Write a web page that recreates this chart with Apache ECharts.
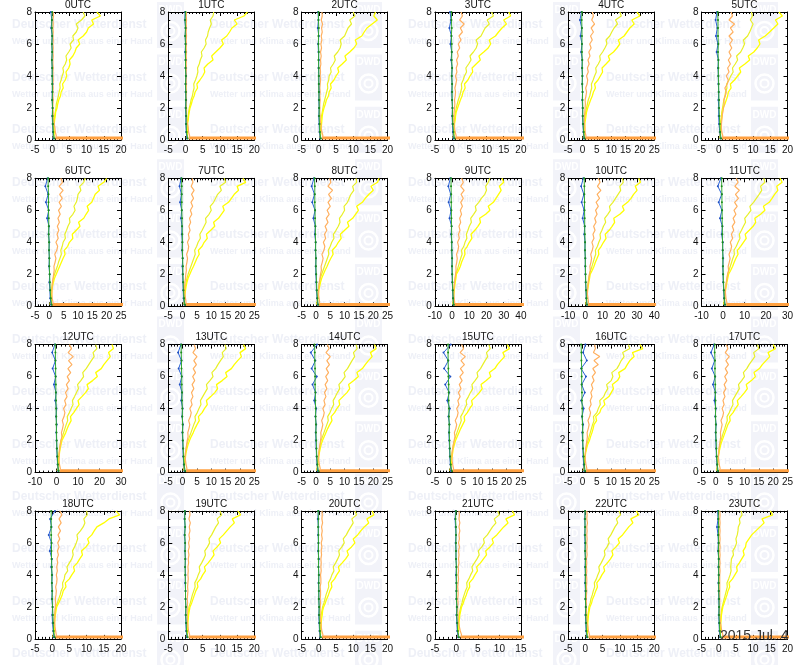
<!DOCTYPE html>
<html><head><meta charset="utf-8">
<script src="https://cdn.jsdelivr.net/npm/echarts@6/dist/echarts.min.js"></script>
<style>html,body{margin:0;padding:0;background:#fff}#c{width:800px;height:665px}</style>
</head><body><div id="c"></div><script>
const utcLabels = ['0UTC','1UTC','2UTC','3UTC','4UTC','5UTC','6UTC','7UTC','8UTC','9UTC','10UTC','11UTC','12UTC','13UTC','14UTC','15UTC','16UTC','17UTC','18UTC','19UTC','20UTC','21UTC','22UTC','23UTC'];
const xMin = [-5,-5,-5,-5,-5,-5, -5,-5,-5,-10,-10,-10, -10,-5,-5,-5,-5,-5, -5,-5,-5,-5,-5,-5];
const xMax = [20,20,20,20,25,20, 25,25,25,40,40,30, 30,25,25,25,25,25, 20,20,20,15,20,20];
const xStep = [5,5,5,5,5,5, 5,5,5,10,10,10, 10,5,5,5,5,5, 5,5,5,5,5,5];
const yMin = 0, yMax = 8, yStep = 2;
const dateLabel = '2015 Jul. 4';

// heights (km) for the fine profiles
const heights = [0.1,0.25,0.5,0.75,1,1.25,1.5,1.75,2,2.25,2.5,2.75,3,3.25,3.5,3.75,4,4.25,4.5,4.75,5,5.25,5.5,5.75,6,6.25,6.5,6.75,7,7.25,7.5,7.75,8];
// heights (km) for the coarse profiles
const heightsCoarse = [0.1,0.5,1,1.5,2,2.5,3,3.5,4,4.5,5,5.5,6,6.5,7,7.5,8];
const surfaceLevel = 0.12;

const yellowOuter = [
[0.3,0.5,0.6,0.5,0.6,0.7,0.9,1.0,1.4,1.6,1.9,2.4,2.6,3.2,3.0,3.8,4.2,4.0,4.8,5.2,5.0,6.0,6.6,7.0,8.0,7.5,9.0,10.0,10.5,12.0,11.5,14.0,13.0],
[0.3,0.5,0.6,0.7,0.6,0.8,0.9,1.1,1.3,1.7,2.0,2.5,2.8,3.5,3.3,4.2,5.0,5.6,5.4,6.5,8.0,7.6,8.8,10.0,11.0,10.5,12.0,12.8,13.5,15.0,14.2,17.0,18.0],
[0.3,0.5,0.6,0.7,0.8,0.9,1.0,1.2,1.5,1.9,2.2,2.8,3.0,3.6,3.4,4.4,5.0,5.8,5.5,6.8,8.0,7.6,9.0,10.2,11.0,10.6,12.5,13.2,14.0,15.5,17.0,16.0,16.5],
[0.3,0.5,0.6,0.7,0.7,0.9,1.0,1.2,1.6,2.0,2.4,2.9,3.2,3.8,3.6,4.6,5.2,6.0,5.8,7.0,8.2,7.8,9.2,10.5,11.2,10.8,12.6,13.5,14.5,15.8,15.0,17.0,16.5],
[0.3,0.5,0.7,0.8,0.8,1.0,1.2,1.4,1.8,2.3,2.8,3.4,3.8,4.5,4.2,5.4,6.2,7.0,6.8,8.2,9.5,9.0,10.8,12.0,13.0,12.5,14.5,15.5,16.5,18.0,17.2,20.0,19.0],
[0.3,0.5,0.6,0.7,0.7,0.8,1.0,1.1,1.3,1.8,2.2,2.6,2.8,3.6,3.4,4.6,5.5,6.4,6.0,7.6,9.0,8.6,10.2,11.2,12.0,11.6,13.5,14.8,16.0,17.2,16.5,18.5,17.5],
[0.3,0.5,0.7,0.8,0.9,1.1,1.4,1.8,2.4,3.0,3.6,4.2,4.8,5.5,5.2,6.4,7.0,8.2,8.0,9.4,10.7,10.2,12.0,12.8,13.7,13.2,14.8,15.4,16.0,17.5,17.0,19.0,20.0],
[0.3,0.5,0.7,0.8,1.0,1.2,1.5,1.9,2.5,3.1,3.8,4.4,5.0,5.8,5.5,6.8,7.5,8.6,8.3,9.8,11.2,10.8,12.5,13.5,14.5,14.0,16.0,17.0,18.0,19.5,19.0,22.0,21.0],
[0.3,0.5,0.7,0.9,1.0,1.3,1.6,2.0,2.6,3.2,3.9,4.5,5.2,6.0,5.7,7.0,7.8,8.8,8.5,10.0,11.5,11.0,12.8,13.8,14.8,14.2,16.2,17.2,18.5,20.0,19.2,21.5,22.0],
[0.4,0.6,0.8,1.0,1.2,1.5,1.8,2.2,2.5,3.8,4.8,5.5,6.5,7.5,7.2,8.8,10.0,11.5,11.0,13.2,15.0,16.5,16.0,19.5,22.0,21.0,24.0,25.5,27.0,28.5,27.5,30.0,29.0],
[0.4,0.6,0.8,1.1,1.3,1.6,2.0,2.4,2.8,4.0,5.0,5.8,6.8,7.8,7.5,9.2,10.5,12.0,11.5,13.8,15.5,17.0,16.5,20.0,22.5,21.5,24.5,26.5,28.0,30.0,29.0,32.0,31.0],
[0.4,0.6,0.8,1.0,1.2,1.5,1.8,2.2,2.6,3.6,4.5,5.2,6.0,7.0,6.7,8.2,9.5,10.8,10.3,12.2,14.0,15.2,14.8,17.5,19.5,18.8,21.5,22.8,24.0,25.5,25.0,27.5,26.5],
[0.4,0.6,0.8,1.0,1.2,1.4,1.7,2.1,2.5,3.4,4.3,5.0,5.8,6.8,6.5,8.0,9.2,10.5,10.0,11.8,13.5,14.8,14.2,16.8,19.0,18.2,20.8,22.0,23.5,25.0,24.2,26.5,25.8],
[0.3,0.5,0.7,0.9,1.0,1.2,1.5,1.9,2.4,3.0,3.7,4.3,5.0,5.8,5.5,6.8,7.6,8.6,8.3,9.8,11.2,12.2,11.8,13.8,15.5,15.0,17.0,18.0,19.2,20.5,20.0,22.0,21.2],
[0.3,0.5,0.7,0.8,1.0,1.2,1.5,1.8,2.3,2.9,3.5,4.1,4.8,5.6,5.3,6.5,7.3,8.3,8.0,9.4,10.8,11.8,11.4,13.2,14.8,14.3,16.2,17.2,18.3,19.6,19.0,21.0,20.4],
[0.3,0.5,0.7,0.8,1.0,1.2,1.4,1.8,2.2,2.8,3.4,4.0,4.7,5.4,5.2,6.3,7.1,8.1,7.8,9.2,10.5,11.5,11.1,12.9,14.5,14.0,15.9,16.8,18.0,19.3,18.7,21.0,20.2],
[0.3,0.5,0.6,0.8,0.9,1.1,1.4,1.8,2.4,2.8,3.3,3.7,4.0,4.9,4.6,6.0,6.5,7.8,7.4,9.2,10.0,10.8,10.4,12.2,13.0,12.6,14.8,15.6,16.5,18.0,17.4,21.0,20.0],
[0.3,0.5,0.6,0.8,0.9,1.1,1.4,1.7,2.2,2.7,3.2,3.7,4.2,5.0,4.8,6.0,6.8,7.8,7.5,8.8,10.0,11.0,10.6,12.4,13.8,13.3,15.2,16.2,17.5,18.8,18.2,20.8,20.0],
[0.3,0.5,0.6,0.7,0.7,0.8,0.9,1.1,1.3,1.9,2.4,2.9,3.2,4.0,3.8,5.0,5.7,6.5,6.2,7.3,8.0,8.8,8.5,9.8,10.7,10.3,11.5,12.2,13.0,15.0,16.5,19.6,18.5],
[0.3,0.5,0.6,0.7,0.7,0.8,0.9,1.1,1.3,1.8,2.2,2.6,3.0,3.6,3.4,4.4,5.0,5.8,5.5,6.6,7.5,8.3,8.0,9.2,10.2,9.8,11.0,12.0,13.0,14.2,13.6,16.0,15.2],
[0.3,0.5,0.6,0.7,0.7,0.8,1.0,1.1,1.4,1.9,2.3,2.8,3.2,3.8,3.6,4.6,5.2,6.0,5.7,6.8,7.8,8.6,8.2,9.5,10.5,10.0,11.3,12.2,13.2,14.5,14.0,16.0,15.5],
[0.3,0.4,0.5,0.6,0.6,0.7,0.8,1.0,1.2,1.6,1.9,2.3,2.6,3.1,3.0,3.8,4.3,4.9,4.7,5.6,6.3,7.0,6.8,7.8,8.6,8.3,9.4,10.2,11.0,12.0,11.5,13.5,13.0],
[0.3,0.5,0.6,0.7,0.7,0.8,0.9,1.1,1.3,1.8,2.1,2.6,3.0,3.5,3.3,4.2,4.8,5.6,5.3,6.4,7.3,8.0,7.7,8.9,9.9,9.5,10.8,11.7,12.6,13.8,13.2,15.5,14.8],
[0.3,0.4,0.5,0.6,0.6,0.7,0.8,1.0,1.2,1.6,2.0,2.4,2.7,3.2,3.0,4.0,4.7,5.4,5.2,6.0,6.7,7.4,7.1,7.8,8.0,8.8,9.6,10.8,12.0,13.2,12.6,15.7,15.0]
];

const yellowInner = [
[0.2,0.3,0.4,0.4,0.5,0.6,0.7,0.9,1.1,1.2,1.5,1.8,2.0,2.3,2.2,2.6,2.9,3.3,3.1,3.8,4.2,4.0,4.8,5.5,5.2,6.2,6.0,7.0,7.5,7.0,8.5,9.5,9.0],
[0.2,0.3,0.4,0.5,0.5,0.6,0.8,0.9,1.1,1.4,1.6,2.0,2.2,2.5,2.4,2.9,3.3,3.6,3.5,4.0,4.3,4.8,4.6,5.4,6.0,5.8,6.4,6.6,7.0,7.5,7.2,8.0,8.2],
[0.2,0.3,0.4,0.5,0.5,0.6,0.8,1.0,1.2,1.4,1.7,2.0,2.3,2.6,2.5,2.9,3.0,3.6,3.4,4.2,4.8,4.5,5.5,6.2,6.5,6.2,7.5,8.0,8.5,9.5,9.0,10.5,10.0],
[0.2,0.3,0.4,0.5,0.5,0.7,0.8,1.0,1.2,1.5,1.8,2.2,2.5,2.8,2.7,3.2,3.6,4.2,4.0,4.8,5.5,5.2,6.2,7.0,7.4,7.0,8.4,9.0,9.6,10.8,10.2,12.0,11.5],
[0.2,0.3,0.4,0.5,0.6,0.7,0.9,1.1,1.4,1.7,2.0,2.5,2.8,3.2,3.1,3.7,4.2,4.8,4.6,5.5,6.2,6.0,7.0,7.8,8.5,8.2,9.5,10.2,11.0,12.2,11.5,13.5,13.0],
[0.2,0.3,0.4,0.5,0.5,0.6,0.8,0.9,1.1,1.3,1.5,1.8,2.0,2.4,2.3,3.0,3.5,4.2,4.0,4.8,5.5,5.2,6.4,7.0,7.5,7.2,8.4,9.0,9.5,10.0,9.2,9.8,9.5],
[0.2,0.4,0.5,0.6,0.7,0.9,1.1,1.4,1.8,2.3,2.8,3.2,3.7,4.2,4.0,4.5,4.8,5.6,5.4,6.0,6.5,7.2,7.0,8.2,9.0,8.6,9.4,9.8,10.0,11.0,10.6,12.0,12.5],
[0.2,0.4,0.5,0.6,0.8,1.0,1.2,1.5,1.9,2.4,2.9,3.4,3.9,4.4,4.2,4.9,5.4,6.2,6.0,6.8,7.5,8.2,8.0,9.2,10.0,9.6,10.8,11.5,12.2,13.5,13.0,15.0,14.5],
[0.2,0.4,0.5,0.7,0.8,1.0,1.2,1.5,2.0,2.5,3.0,3.5,4.0,4.5,4.3,5.0,5.5,6.3,6.1,7.0,7.8,8.4,8.2,9.2,10.0,9.8,11.0,11.6,12.2,13.2,12.8,14.2,14.0],
[0.3,0.5,0.6,0.8,1.0,1.2,1.5,1.8,2.2,3.0,3.6,4.3,5.0,5.8,5.5,6.8,7.5,8.6,8.3,9.2,10.0,11.2,10.8,12.5,14.0,13.5,15.5,17.0,19.0,20.0,19.5,21.0,22.0],
[0.3,0.5,0.6,0.8,1.0,1.3,1.6,1.9,2.3,3.1,3.8,4.5,5.2,6.0,5.8,7.0,7.8,8.8,8.5,9.6,10.5,11.8,11.2,13.0,14.5,14.0,16.0,17.5,19.0,20.5,20.0,22.0,21.5],
[0.3,0.5,0.6,0.8,1.0,1.2,1.5,1.8,2.1,2.8,3.4,4.0,4.6,5.3,5.1,6.2,7.0,7.9,7.6,8.6,9.5,10.5,10.1,11.6,13.0,12.5,14.2,15.5,16.8,18.0,17.5,19.5,19.0],
[0.3,0.5,0.6,0.8,1.0,1.2,1.4,1.7,2.0,2.7,3.3,3.9,4.5,5.2,5.0,6.0,6.8,7.7,7.4,8.4,9.3,10.2,9.8,11.3,12.6,12.2,13.8,15.0,16.2,17.5,17.0,18.8,18.2],
[0.2,0.4,0.5,0.7,0.8,1.0,1.2,1.5,1.9,2.4,2.9,3.4,3.9,4.5,4.3,5.1,5.7,6.4,6.2,7.0,7.8,8.6,8.3,9.5,10.6,10.2,11.5,12.3,13.2,14.2,13.8,15.2,14.8],
[0.2,0.4,0.5,0.6,0.8,1.0,1.2,1.5,1.8,2.3,2.8,3.3,3.8,4.3,4.1,4.9,5.5,6.2,6.0,6.8,7.5,8.3,8.0,9.2,10.2,9.8,11.0,11.8,12.6,13.5,13.1,14.4,14.0],
[0.2,0.4,0.5,0.6,0.8,1.0,1.2,1.4,1.8,2.2,2.7,3.2,3.7,4.2,4.0,4.8,5.4,6.1,5.9,6.7,7.4,8.2,7.9,9.0,10.0,9.7,10.9,11.7,12.5,13.4,13.0,14.3,13.8],
[0.2,0.4,0.5,0.6,0.8,1.0,1.2,1.5,1.9,2.3,2.7,3.1,3.5,4.0,3.8,5.0,5.5,6.2,6.0,7.4,8.0,8.8,8.4,10.0,10.6,10.2,12.0,12.8,13.5,14.5,14.0,16.5,16.0],
[0.2,0.4,0.5,0.6,0.8,1.0,1.2,1.4,1.8,2.2,2.6,3.1,3.5,4.0,3.9,4.7,5.3,6.0,5.8,6.6,7.4,8.2,7.9,9.0,10.0,9.6,10.8,11.6,12.6,13.6,13.2,15.0,14.5],
[0.2,0.3,0.4,0.5,0.5,0.6,0.7,0.9,1.0,1.5,1.9,2.3,2.6,3.1,3.0,3.5,3.7,4.5,4.3,5.0,5.7,6.1,5.9,6.5,7.0,7.4,7.2,8.2,9.0,9.5,9.2,10.2,10.0],
[0.2,0.3,0.4,0.5,0.5,0.6,0.7,0.9,1.0,1.4,1.7,2.0,2.4,2.8,2.7,3.3,3.7,4.2,4.0,4.7,5.3,5.8,5.6,6.4,7.0,6.8,7.6,8.2,8.8,9.6,9.2,10.5,10.0],
[0.2,0.3,0.4,0.5,0.5,0.6,0.7,0.9,1.1,1.5,1.8,2.1,2.5,2.9,2.8,3.4,3.8,4.4,4.2,4.9,5.5,6.0,5.8,6.7,7.4,7.1,8.0,8.6,9.3,10.0,9.6,11.0,10.5],
[0.2,0.3,0.4,0.4,0.5,0.6,0.7,0.8,1.0,1.3,1.5,1.8,2.1,2.5,2.4,2.9,3.3,3.8,3.6,4.2,4.8,5.3,5.1,5.9,6.5,6.3,7.2,7.8,8.4,9.2,8.8,10.0,9.6],
[0.2,0.3,0.4,0.5,0.5,0.6,0.7,0.9,1.0,1.4,1.6,2.0,2.3,2.7,2.6,3.2,3.6,4.1,3.9,4.6,5.2,5.7,5.5,6.3,6.9,6.6,7.4,8.0,8.6,9.4,9.0,10.2,9.8],
[0.2,0.3,0.4,0.5,0.5,0.6,0.7,0.8,1.0,1.3,1.6,1.9,2.2,2.5,2.4,2.9,3.3,3.6,3.5,3.6,3.7,4.3,4.1,4.8,5.2,5.0,5.4,5.6,5.7,6.2,6.0,6.8,6.5]
];

const orange = [
[1.0,1.2,0.9,0.8,0.6,0.4,0.3,0.3,0.2,0.2,0.3,0.2,0.2,0.3,0.2,0.3,0.2,0.2,0.3,0.2,0.2,0.3,0.2,0.3,0.2,0.3,0.2,0.3,0.2,0.3,0.2,0.4,0.3],
[1.0,1.2,0.9,0.8,0.6,0.4,0.3,0.3,0.3,0.2,0.3,0.2,0.3,0.2,0.3,0.2,0.3,0.2,0.3,0.2,0.3,0.2,0.3,0.2,0.3,0.2,0.3,0.2,0.3,0.2,0.3,0.2,0.3],
[1.0,1.2,0.9,0.7,0.6,0.4,0.4,0.3,0.3,0.3,0.4,0.3,0.4,0.3,0.4,0.5,0.4,0.5,0.4,0.6,0.5,0.7,0.5,0.8,0.6,0.9,0.7,1.0,0.8,1.1,0.7,1.0,0.9],
[1.0,1.2,0.9,0.7,0.6,0.5,0.5,0.6,0.7,0.8,0.7,0.9,1.0,0.8,1.1,1.3,1.0,1.4,1.2,1.6,1.3,1.8,1.5,2.2,1.8,2.6,2.0,3.0,2.4,3.5,2.2,3.0,2.6],
[1.0,1.2,0.9,0.8,0.7,0.6,0.7,0.8,0.9,1.0,0.9,1.2,1.4,1.1,1.6,1.8,1.4,2.0,1.7,2.3,1.9,2.6,2.2,3.0,2.5,3.4,2.8,3.8,3.0,4.2,3.2,3.8,3.4],
[1.0,1.2,0.9,0.8,0.8,0.9,1.0,1.2,1.4,1.6,1.5,1.9,2.2,1.8,2.5,2.8,2.2,3.0,2.6,3.4,2.8,3.6,3.0,3.8,3.2,4.0,3.0,4.2,3.4,4.6,3.0,4.0,3.6],
[1.0,1.3,1.0,0.9,0.9,1.0,1.1,1.3,1.5,1.7,1.6,2.0,2.3,1.9,2.6,2.9,2.3,3.1,2.7,3.3,2.8,3.5,3.0,3.8,3.2,4.2,3.4,4.5,3.6,4.8,3.4,4.6,4.0],
[1.0,1.2,1.0,0.8,0.7,0.7,0.8,1.0,1.1,1.3,1.2,1.5,1.7,1.4,1.9,2.1,1.7,2.3,2.0,2.6,2.2,2.8,2.4,3.2,2.7,3.5,2.9,3.8,3.1,4.0,3.0,3.6,3.3],
[1.0,1.3,1.1,0.9,0.9,1.0,1.2,1.4,1.6,1.9,1.8,2.2,2.5,2.1,2.8,3.1,2.6,3.4,3.0,3.8,3.2,4.2,3.6,4.6,3.9,5.0,4.2,5.4,4.4,5.8,4.2,5.2,4.8],
[1.2,1.5,1.2,1.0,1.0,1.2,1.4,1.7,2.0,2.3,2.2,2.7,3.0,2.6,3.4,3.8,3.2,4.2,3.7,4.6,4.0,5.0,4.4,5.5,4.8,6.0,5.0,6.5,5.2,7.0,5.0,6.5,5.5],
[1.5,1.8,1.5,1.2,1.2,1.4,1.7,2.0,2.4,2.8,2.6,3.2,3.6,3.1,4.0,4.5,3.8,5.0,4.4,5.6,4.8,6.2,5.4,6.8,5.9,7.5,6.2,8.2,6.8,9.0,7.0,8.5,7.5],
[1.5,1.8,1.4,1.2,1.1,1.3,1.6,1.9,2.2,2.6,2.4,2.9,3.3,2.8,3.6,4.0,3.4,4.5,3.9,5.0,4.3,5.5,4.7,6.0,5.1,6.6,5.4,7.2,5.8,7.6,5.5,7.0,6.2],
[1.5,1.8,1.4,1.2,1.1,1.3,1.5,1.8,2.1,2.5,2.3,2.8,3.2,2.7,3.5,3.9,3.3,4.4,3.8,4.9,4.2,5.4,4.6,6.0,5.0,6.6,5.3,7.2,5.6,7.8,5.4,7.0,6.0],
[1.2,1.5,1.2,1.0,0.9,1.0,1.2,1.4,1.6,1.9,1.8,2.2,2.5,2.1,2.7,3.0,2.5,3.3,2.9,3.6,3.1,3.9,3.3,4.2,3.5,4.5,3.7,4.8,3.9,5.0,3.6,4.5,4.0],
[1.2,1.5,1.2,1.0,0.9,1.0,1.2,1.4,1.6,1.8,1.7,2.1,2.4,2.0,2.6,2.9,2.4,3.2,2.8,3.5,3.0,3.8,3.2,4.1,3.4,4.4,3.6,4.7,3.8,5.0,3.5,4.6,4.0],
[1.2,1.5,1.2,1.0,0.9,1.0,1.2,1.5,1.7,2.0,1.8,2.3,2.6,2.1,2.8,3.1,2.6,3.4,3.0,3.8,3.2,4.1,3.5,4.5,3.7,4.9,3.9,5.3,4.1,5.6,3.8,5.0,4.3],
[1.2,1.5,1.2,1.0,0.9,1.0,1.1,1.3,1.5,1.7,1.6,2.0,2.3,1.9,2.5,2.8,2.3,3.0,2.7,3.3,2.9,3.6,3.1,4.0,3.4,4.5,3.6,5.5,4.0,6.0,3.8,4.5,4.2],
[1.2,1.5,1.2,1.0,0.9,1.0,1.1,1.3,1.5,1.7,1.6,1.9,2.2,1.8,2.4,2.7,2.2,2.9,2.5,3.2,2.7,3.5,2.9,3.8,3.1,4.1,3.3,4.4,3.5,4.7,3.3,4.2,3.7],
[1.0,1.2,1.0,0.8,0.7,0.7,0.8,0.8,0.9,1.0,0.9,1.1,1.2,1.0,1.3,1.4,1.2,1.5,1.3,1.6,1.4,1.8,1.5,2.0,1.6,2.2,1.7,2.4,1.8,2.6,2.0,2.8,2.2],
[1.0,1.2,0.9,0.7,0.6,0.5,0.5,0.5,0.5,0.6,0.5,0.6,0.7,0.6,0.7,0.8,0.7,0.8,0.7,0.9,0.8,1.0,0.8,1.1,0.9,1.2,1.0,1.3,1.1,1.4,1.0,1.3,1.2],
[1.0,1.2,0.9,0.7,0.6,0.5,0.4,0.4,0.4,0.5,0.4,0.5,0.5,0.4,0.6,0.6,0.5,0.7,0.6,0.7,0.6,0.8,0.7,0.9,0.7,1.0,0.8,1.0,0.8,1.1,0.9,1.0,0.9],
[1.0,1.2,0.9,0.7,0.5,0.4,0.4,0.3,0.3,0.4,0.3,0.4,0.4,0.3,0.4,0.5,0.4,0.5,0.4,0.6,0.5,0.6,0.5,0.7,0.5,0.7,0.6,0.8,0.6,0.8,0.6,0.7,0.6],
[1.0,1.2,0.9,0.7,0.5,0.4,0.3,0.3,0.3,0.3,0.3,0.3,0.4,0.3,0.4,0.4,0.3,0.4,0.3,0.4,0.3,0.5,0.4,0.5,0.4,0.5,0.4,0.5,0.4,0.6,0.4,0.5,0.4],
[1.0,1.2,0.9,0.7,0.5,0.4,0.3,0.3,0.3,0.3,0.3,0.3,0.3,0.3,0.3,0.3,0.3,0.4,0.3,0.4,0.3,0.4,0.3,0.4,0.3,0.4,0.3,0.4,0.3,0.4,0.3,0.4,0.3]
];
// near-surface values (off the scale)
const orangeSurface = [40,42,45,44,50,46, 52,55,58,70,75,60, 62,54,52,50,55,52, 45,42,40,38,40,42];

const blue = [
[0.3,0.2,0.1,0.0,0.1,0.0,0.0,0.1,0.0,0.0,-0.1,0.0,-0.1,0.0,-0.3,-0.1,-0.4],
[0.4,0.2,0.1,0.1,0.0,0.1,0.0,0.0,0.1,0.0,0.0,-0.1,0.0,-0.1,0.0,-0.2,-0.1],
[0.4,0.2,0.1,0.0,0.1,0.0,0.1,0.0,0.0,-0.1,0.0,-0.1,-0.2,0.0,-0.3,-0.1,-0.2],
[0.4,0.2,0.1,0.0,0.1,0.0,-0.1,0.0,-0.1,0.0,-0.3,-0.1,-0.5,-0.2,-0.8,-0.3,-0.6],
[0.5,0.3,0.1,0.0,0.0,-0.1,0.0,-0.1,0.0,-0.2,-0.1,-0.5,-0.2,-0.7,-0.3,-0.9,-0.4],
[0.5,0.3,0.1,0.0,0.0,-0.1,0.0,-0.1,-0.1,-0.2,-0.1,-0.6,-0.2,-0.8,-0.4,-0.9,-0.5],
[0.6,0.3,0.2,0.0,0.1,-0.1,0.0,-0.1,0.0,-0.3,-0.1,-0.8,-0.2,-1.2,-0.4,-1.4,-0.6],
[0.6,0.3,0.2,0.1,0.0,-0.1,0.0,-0.2,-0.1,-0.3,-0.2,-0.6,-0.3,-0.9,-0.4,-1.1,-0.5],
[0.6,0.4,0.2,0.1,0.0,-0.1,0.0,-0.2,-0.1,-0.4,-0.2,-0.9,-0.3,-1.3,-0.5,-1.5,-0.7],
[0.8,0.5,0.3,0.1,0.0,-0.1,0.0,-0.2,-0.2,-0.6,-0.3,-1.5,-0.6,-2.0,-0.8,-2.2,-1.0],
[0.8,0.5,0.3,0.1,0.0,-0.1,0.0,-0.3,-0.2,-0.7,-0.4,-1.6,-0.7,-2.2,-0.9,-2.5,-1.2],
[0.8,0.5,0.3,0.1,0.0,-0.1,0.1,-0.2,-0.1,-0.6,-0.3,-1.4,-0.5,-2.0,-0.6,-2.4,-1.0],
[0.8,0.5,0.3,0.1,0.0,-0.1,0.1,-0.2,0.0,-0.6,-0.2,-1.2,-0.4,-1.8,-0.5,-2.0,-0.8],
[0.6,0.4,0.2,0.1,0.0,-0.1,0.1,-0.2,0.0,-0.5,-0.2,-1.0,-0.3,-1.4,-0.4,-1.6,-0.6],
[0.6,0.4,0.2,0.1,0.0,-0.1,0.1,-0.2,0.1,-0.6,-0.1,-1.2,0.3,-1.5,-0.2,-1.8,0.4],
[0.6,0.4,0.2,0.1,0.0,-0.1,0.1,-0.3,0.2,-0.7,0.0,-1.4,0.4,-1.8,-0.3,-2.0,0.5],
[0.6,0.4,0.2,0.1,0.0,-0.1,0.2,-0.2,0.4,-0.5,0.8,-0.3,1.2,-0.5,1.5,0.2,1.0],
[0.6,0.4,0.2,0.1,0.0,-0.1,0.1,-0.2,0.0,-0.5,-0.1,-1.0,-0.2,-1.4,-0.4,-1.7,-0.6],
[0.5,0.3,0.1,0.0,0.1,-0.1,0.0,-0.1,0.0,-0.3,-0.1,-0.7,-0.2,-1.0,-0.2,-0.6,0.8],
[0.4,0.2,0.1,0.0,0.1,0.0,0.0,-0.1,0.0,-0.1,0.0,-0.2,-0.1,-0.3,-0.1,-0.3,-0.2],
[0.4,0.2,0.1,0.0,0.1,0.0,0.0,-0.1,0.0,-0.1,0.0,-0.2,-0.1,-0.2,-0.1,-0.3,-0.1],
[0.4,0.2,0.1,0.0,0.1,0.0,0.0,0.0,-0.1,0.0,-0.1,-0.1,-0.2,-0.1,-0.2,-0.3,-0.2],
[0.4,0.2,0.1,0.0,0.1,0.0,0.0,-0.1,0.0,-0.1,0.0,-0.1,-0.1,-0.2,-0.1,-0.2,-0.1],
[0.4,0.2,0.1,0.0,0.1,0.0,0.0,-0.1,0.0,-0.1,0.0,-0.2,-0.1,-0.2,-0.5,-0.2,-0.3]
];

const green = [
[0.6,0.3,0.2,0.1,0.1,0.0,0.1,0.0,0.0,0.0,-0.1,0.0,-0.1,0.0,-0.1,-0.1,0.0],
[0.6,0.3,0.2,0.2,0.1,0.1,0.1,0.0,0.1,0.0,0.0,0.0,0.0,-0.1,0.0,-0.1,0.0],
[0.6,0.3,0.2,0.1,0.1,0.1,0.0,0.0,0.0,0.0,-0.1,0.0,-0.1,-0.1,0.0,-0.1,-0.1],
[0.7,0.4,0.2,0.1,0.1,0.0,0.0,0.0,-0.1,0.0,-0.1,-0.1,-0.1,-0.2,-0.1,-0.2,-0.2],
[0.7,0.4,0.2,0.1,0.1,0.0,0.0,-0.1,-0.1,-0.1,-0.1,-0.2,-0.2,-0.2,-0.2,-0.3,-0.2],
[0.7,0.4,0.3,0.2,0.1,0.1,0.0,0.0,-0.1,-0.1,-0.1,-0.2,-0.1,-0.2,-0.2,-0.2,-0.3],
[0.8,0.5,0.3,0.2,0.1,0.0,0.0,-0.1,-0.1,-0.2,-0.2,-0.2,-0.3,-0.3,-0.3,-0.4,-0.4],
[0.8,0.5,0.3,0.2,0.1,0.1,0.0,-0.1,-0.1,-0.1,-0.2,-0.2,-0.3,-0.3,-0.3,-0.3,-0.4],
[0.8,0.5,0.3,0.2,0.1,0.0,0.0,-0.1,-0.1,-0.2,-0.2,-0.3,-0.3,-0.4,-0.4,-0.4,-0.5],
[1.0,0.6,0.4,0.2,0.1,0.0,0.0,-0.2,-0.2,-0.3,-0.3,-0.4,-0.4,-0.5,-0.5,-0.6,-0.6],
[1.0,0.6,0.4,0.2,0.1,0.0,-0.1,-0.2,-0.2,-0.3,-0.4,-0.4,-0.5,-0.5,-0.6,-0.6,-0.7],
[1.0,0.6,0.4,0.2,0.1,0.0,-0.1,-0.1,-0.2,-0.3,-0.3,-0.4,-0.4,-0.5,-0.5,-0.6,-0.6],
[1.0,0.6,0.4,0.2,0.1,0.0,-0.1,-0.1,-0.2,-0.2,-0.3,-0.3,-0.4,-0.4,-0.5,-0.5,-0.6],
[0.9,0.5,0.3,0.2,0.1,0.0,0.0,-0.1,-0.1,-0.2,-0.2,-0.3,-0.3,-0.4,-0.4,-0.5,-0.5],
[0.9,0.5,0.3,0.2,0.1,0.0,0.0,-0.1,-0.1,-0.2,-0.2,-0.3,-0.3,-0.3,-0.4,-0.4,-0.5],
[0.9,0.5,0.3,0.2,0.1,0.0,0.0,-0.1,-0.1,-0.2,-0.2,-0.2,-0.3,-0.3,-0.4,-0.4,-0.4],
[0.9,0.6,0.4,0.2,0.1,0.1,0.0,-0.1,-0.1,-0.2,-0.2,-0.3,-0.3,-0.3,-0.4,-0.4,-0.5],
[0.8,0.5,0.3,0.2,0.1,0.0,0.0,-0.1,-0.1,-0.1,-0.2,-0.2,-0.3,-0.3,-0.3,-0.4,-0.4],
[0.7,0.4,0.3,0.2,0.1,0.0,0.0,-0.1,-0.1,-0.1,-0.2,-0.2,-0.2,-0.3,-0.3,-0.3,-0.3],
[0.6,0.3,0.2,0.1,0.1,0.0,0.0,0.0,-0.1,-0.1,-0.1,-0.1,-0.1,-0.2,-0.1,-0.2,-0.2],
[0.6,0.3,0.2,0.1,0.1,0.0,0.0,0.0,0.0,-0.1,-0.1,-0.1,-0.1,-0.1,-0.2,-0.1,-0.2],
[0.6,0.3,0.2,0.1,0.1,0.0,0.0,0.0,0.0,0.0,-0.1,-0.1,-0.1,-0.1,-0.1,-0.2,-0.1],
[0.6,0.3,0.2,0.1,0.1,0.0,0.1,0.0,0.0,0.0,0.0,-0.1,0.0,-0.1,-0.1,-0.1,-0.1],
[0.6,0.3,0.2,0.1,0.1,0.1,0.0,0.0,0.0,0.0,0.0,-0.1,0.0,-0.1,0.0,-0.1,-0.1]
];

// ---------- build ----------
const FONT = '"Liberation Sans", Arial, Helvetica, sans-serif';
const pairs = (vals, hs) => vals.map((v, i) => [v, hs[i]]);
const grids = [], xAxes = [], yAxes = [], series = [], graphics = [];
const COLW = 133.3, ROWH = 166.3, GL = 35, GT = 12, GW = 86, GH = 128;

// faint watermark
const WM_TEXT = '#eef0f7', WM_BOX = '#f2f3f9';
for (let m = 0; m < 13; m++) {
  for (let k = 0; k < 5; k++) {
    const ty = 25 + 52.4 * m;
    graphics.push({type:'text', silent:true, z:0, x: 12 + 198*k, y: ty,
      style:{text:'Deutscher Wetterdienst', fill:WM_TEXT, font:'bold 12px ' + FONT, textVerticalAlign:'middle', verticalAlign:'middle'}});
    graphics.push({type:'text', silent:true, z:0, x: 12 + 198*k, y: ty + 17,
      style:{text:'Wetter und Klima aus einer Hand', fill:WM_TEXT, font:'bold 9px ' + FONT, textVerticalAlign:'middle', verticalAlign:'middle'}});
    const lx = 157 + 198*k, ly = 2 + 52.4*m;
    graphics.push({type:'rect', silent:true, z:0, shape:{x:lx, y:ly, width:27, height:46}, style:{fill:WM_BOX}});
    graphics.push({type:'text', silent:true, z:0, x: lx + 13.5, y: ly + 8,
      style:{text:'DWD', fill:'#ffffff', font:'bold 10px ' + FONT, textAlign:'center', align:'center', textVerticalAlign:'middle', verticalAlign:'middle'}});
    graphics.push({type:'circle', silent:true, z:0, shape:{cx: lx + 13.5, cy: ly + 29, r: 9}, style:{fill:'none', stroke:'#ffffff', lineWidth:2.5}});
    graphics.push({type:'circle', silent:true, z:0, shape:{cx: lx + 13.5, cy: ly + 29, r: 4}, style:{fill:'none', stroke:'#ffffff', lineWidth:2}});
  }
}

const axisCommon = {
  axisLine:{show:true, onZero:false, lineStyle:{color:'#000', width:1}},
  axisTick:{show:true, inside:true, length:4, lineStyle:{color:'#000', width:1}},
  splitLine:{show:false}
};

for (let p = 0; p < 24; p++) {
  const r = Math.floor(p / 6), c = p % 6;
  const left = GL + COLW * c, top = GT + ROWH * r;
  grids.push({left: left, top: top, width: GW, height: GH, containLabel:false});
  xAxes.push(Object.assign({}, axisCommon, {gridIndex:p, type:'value', position:'bottom', min:xMin[p], max:xMax[p], interval:xStep[p],
    minorTick:{show:true, splitNumber:5, length:2, lineStyle:{color:'#000'}},
    axisLabel:{show:true, fontSize:10, color:'#111', margin:5, fontFamily:FONT, showMinLabel:true, showMaxLabel:true}}));
  xAxes.push(Object.assign({}, axisCommon, {gridIndex:p, type:'value', position:'top', min:xMin[p], max:xMax[p], interval:xStep[p],
    minorTick:{show:true, splitNumber:5, length:2, lineStyle:{color:'#000'}},
    axisLabel:{show:false}}));
  yAxes.push(Object.assign({}, axisCommon, {gridIndex:p, type:'value', position:'left', min:yMin, max:yMax, interval:yStep,
    minorTick:{show:true, splitNumber:4, length:2, lineStyle:{color:'#000'}},
    axisLabel:{show:true, fontSize:10, color:'#111', margin:3, fontFamily:FONT}}));
  yAxes.push(Object.assign({}, axisCommon, {gridIndex:p, type:'value', position:'right', min:yMin, max:yMax, interval:yStep,
    minorTick:{show:true, splitNumber:4, length:2, lineStyle:{color:'#000'}},
    axisLabel:{show:false}}));

  const xi = 2*p, yi = 2*p;
  const base = {type:'line', xAxisIndex:xi, yAxisIndex:yi, silent:true, animation:false, showSymbol:false, clip:true};
  series.push(Object.assign({}, base, {data: pairs(yellowInner[p], heights), lineStyle:{color:'#e8f028', width:1.2}, z:3}));
  series.push(Object.assign({}, base, {data: pairs(yellowOuter[p], heights), lineStyle:{color:'#ffff00', width:1.3}, z:3}));
  series.push(Object.assign({}, base, {data: [[orangeSurface[p], surfaceLevel], [orange[p][0], surfaceLevel]], lineStyle:{color:'#ffa040', width:3}, z:4}));
  series.push(Object.assign({}, base, {data: pairs(orange[p], heights), lineStyle:{color:'#ffb060', width:1.2}, z:4}));
  series.push(Object.assign({}, base, {data: pairs(blue[p], heightsCoarse), showSymbol:true, symbol:'circle', symbolSize:2,
    itemStyle:{color:'#1f4fc0'}, lineStyle:{color:'#2a62d8', width:1}, z:5}));
  series.push(Object.assign({}, base, {data: pairs(green[p], heightsCoarse), showSymbol:true, symbol:'circle', symbolSize:2,
    itemStyle:{color:'#1a8a1a'}, lineStyle:{color:'#33aa33', width:1}, z:6}));

  graphics.push({type:'text', silent:true, z:10, x: left + GW/2, y: top - 7,
    style:{text: utcLabels[p], fill:'#111', font:'10px ' + FONT, textAlign:'center', align:'center', textVerticalAlign:'middle', verticalAlign:'middle'}});
}

graphics.push({type:'text', silent:true, z:100, x: 720, y: 636,
  style:{text: dateLabel, fill:'#333', font:'14px ' + FONT, textVerticalAlign:'middle', verticalAlign:'middle'}});

const chart = echarts.init(document.getElementById('c'), null, {renderer:'canvas', width:800, height:665});
chart.setOption({
  animation:false,
  backgroundColor:'#ffffff',
  grid: grids, xAxis: xAxes, yAxis: yAxes, series: series,
  graphic: {elements: graphics}
});
</script></body></html>
